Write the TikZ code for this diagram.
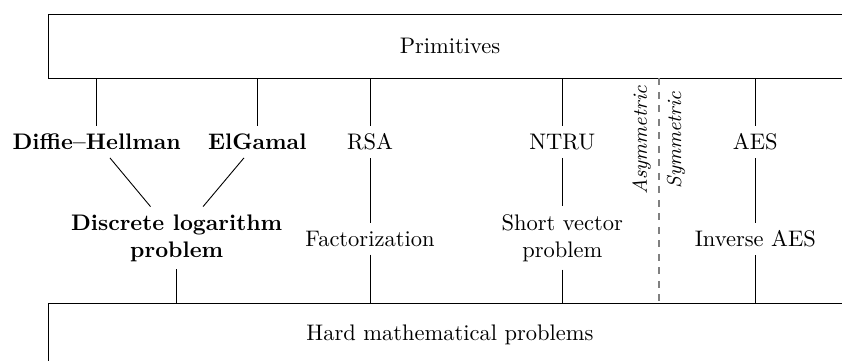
\documentclass[tikz,border=0pt]{standalone}
\begin{document}
\begin{tikzpicture}[x=0.015625cm,y=-0.015625cm,
  bigbox/.style={draw,rectangle,minimum width=12.56cm,minimum height=1cm},
  item/.style={align=center},
  bolditem/.style={align=center,font=\bfseries},
  side/.style={font=\itshape\small,rotate=90},
  sep/.style={draw=gray,dashed,semithick}]
\clip (0,0) rectangle (842,360);
\node[bigbox] (prim) at (450,46) {Primitives};
\node[bigbox] (hard) at (450,335) {Hard mathematical problems};
\node[bolditem] (dh) at (96.7,142) {Diffie--Hellman};
\node[bolditem] (elg) at (257.3,142) {ElGamal};
\node[item] (rsa) at (370,142) {RSA};
\node[item] (ntru) at (562.3,142) {NTRU};
\node[item] (aes) at (755.3,142) {AES};
\node[bolditem] (dlp) at (176.7,238) {Discrete logarithm\\problem};
\node[item] (fact) at (370,239) {Factorization};
\node[item] (svp) at (562.3,238) {Short vector\\problem};
\node[item] (inv) at (755.3,239) {Inverse AES};
\coordinate (septop) at (prim.south -| 659,0);
\coordinate (sepbot) at (hard.north -| 659,0);
\coordinate (sepmid) at (659,140);
\draw (prim.south -| dh) -- (dh);
\draw (prim.south -| elg) -- (elg);
\draw (prim.south -| rsa) -- (rsa);
\draw (prim.south -| ntru) -- (ntru);
\draw (prim.south -| aes) -- (aes);
\draw (dh) -- (dlp);
\draw (elg) -- (dlp);
\draw (rsa) -- (fact);
\draw (ntru) -- (svp);
\draw (aes) -- (inv);
\draw (dlp) -- (hard.north -| dlp);
\draw (fact) -- (hard.north -| fact);
\draw (svp) -- (hard.north -| svp);
\draw (inv) -- (hard.north -| inv);
\draw[sep] (septop) -- (sepbot);
\node[side,anchor=south] (asym) at (sepmid) {Asymmetric};
\node[side,anchor=north] (sym) at (sepmid) {Symmetric};
\end{tikzpicture}
\end{document}
